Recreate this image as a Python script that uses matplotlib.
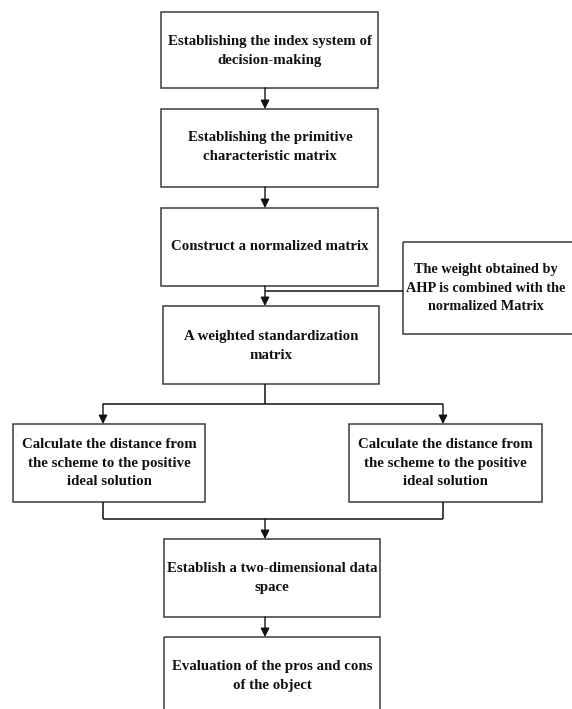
import matplotlib.pyplot as plt
from matplotlib.patches import Rectangle

# box texts
labels = [
    "Establishing the index system of\ndecision-making",
    "Establishing the primitive\ncharacteristic matrix",
    "Construct a normalized matrix",
    "The weight obtained by\nAHP is combined with the\nnormalized Matrix",
    "A weighted standardization\nmatrix",
    "Calculate the distance from\nthe scheme to the positive\nideal solution",
    "Calculate the distance from\nthe scheme to the positive\nideal solution",
    "Establish a two-dimensional data\nspace",
    "Evaluation of the pros and cons\nof the object",
]

# layout in pixels: x0, y0, x1, y1, text centre x, text centre y
boxes = [
    (161, 12, 378, 88, 270, 51),
    (161, 109, 378, 187, 270, 147),
    (161, 208, 378, 286, 270, 247),
    (403, 242, 580, 334, 486, 288),
    (163, 306, 379, 384, 271, 346),
    (13, 424, 205, 502, 109, 463),
    (349, 424, 542, 502, 445, 463),
    (164, 539, 380, 617, 272, 578),
    (164, 637, 380, 720, 272, 676),
]

fig = plt.figure(figsize=(5.72, 7.09), dpi=100)
ax = fig.add_axes([0, 0, 1, 1])
ax.set_xlim(0, 572)
ax.set_ylim(709, 0)
ax.axis("off")

for (x0, y0, x1, y1, tx, ty), txt in zip(boxes, labels):
    ax.add_patch(Rectangle((x0, y0), x1 - x0, y1 - y0, fill=False,
                           edgecolor="#3a3a3a", lw=1.1))
    fs = 10.3 if x1 > 572 else 10.7
    ax.text(tx, ty, txt, ha="center", va="center",
            family="Liberation Serif", fontweight="bold", fontsize=fs,
            linespacing=1.55, color="#111111")


def arrow(x, y0, y1):
    ax.annotate("", xy=(x, y1), xytext=(x, y0),
                arrowprops=dict(arrowstyle="-|>", color="#111111", lw=1,
                                mutation_scale=13, shrinkA=0, shrinkB=0))


def line(xs, ys):
    ax.plot(xs, ys, color="#111111", lw=1.1, solid_capstyle="butt")


cx = 265
arrow(cx, 88, 109)
arrow(cx, 187, 208)
arrow(cx, 286, 306)
line([cx, 403], [291, 291])
line([cx, cx], [384, 404])
line([103, 443], [404, 404])
arrow(103, 404, 424)
arrow(443, 404, 424)
line([103, 103], [502, 519])
line([443, 443], [502, 519])
line([103, 443], [519, 519])
arrow(cx, 519, 539)
arrow(cx, 617, 637)

fig.savefig("out.png", dpi=100)
